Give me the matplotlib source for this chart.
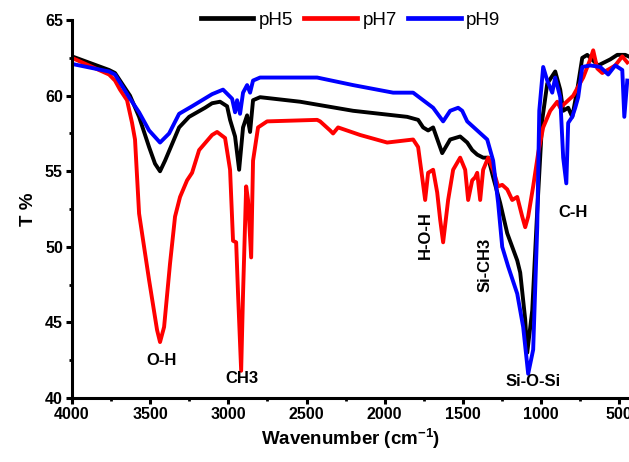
import matplotlib.pyplot as plt
from matplotlib.ticker import MultipleLocator

plt.rcParams['font.family'] = ['Liberation Sans', 'DejaVu Sans']
plt.rcParams['mathtext.fontset'] = 'custom'
plt.rcParams['mathtext.rm'] = 'Liberation Sans'
plt.rcParams['mathtext.bf'] = 'Liberation Sans:bold'

# FTIR spectra (wavenumber in cm-1, transmittance in %)
wn_ph5 = [4000, 3763, 3725, 3629, 3571, 3507, 3469, 3437, 3405, 3360, 3315, 3251,
          3149, 3104, 3053, 3008, 2989, 2957, 2931, 2906, 2880, 2861, 2842, 2797,
          2541, 2202, 1856, 1786, 1754, 1722, 1690, 1632, 1581, 1517, 1472, 1440,
          1408, 1370, 1338, 1306, 1261, 1216, 1152, 1133, 1101, 1088, 1056, 1024,
          992, 960, 909, 877, 858, 826, 800, 768, 736, 704, 634, 557, 512, 461, 440]
t_ph5 = [62.6, 61.7, 61.5, 60.0, 58.6, 56.6, 55.5, 55.0, 55.7, 56.8, 57.9, 58.6,
         59.2, 59.5, 59.6, 59.3, 58.4, 57.3, 55.1, 57.9, 58.7, 57.6, 59.7, 59.9,
         59.6, 59.0, 58.6, 58.4, 57.9, 57.7, 57.9, 56.2, 57.1, 57.3, 56.9, 56.4,
         56.1, 55.9, 55.9, 54.6, 52.9, 50.9, 49.1, 48.3, 45.2, 43.0, 45.8, 52.4,
         58.4, 60.8, 61.6, 60.4, 59.0, 59.2, 58.6, 60.4, 62.5, 62.7, 62.0, 62.4,
         62.7, 62.7, 62.6]

wn_ph7 = [4000, 3763, 3725, 3693, 3648, 3616, 3597, 3571, 3507, 3456, 3437, 3411,
          3373, 3341, 3309, 3264, 3232, 3187, 3104, 3072, 3021, 2989, 2970, 2950,
          2938, 2918, 2906, 2886, 2874, 2854, 2842, 2810, 2752, 2432, 2413, 2349,
          2330, 2298, 2157, 1984, 1818, 1786, 1760, 1741, 1722, 1690, 1664, 1645,
          1626, 1594, 1562, 1517, 1485, 1466, 1440, 1421, 1408, 1389, 1370, 1338,
          1306, 1274, 1248, 1216, 1184, 1152, 1120, 1101, 1082, 1050, 1018, 986,
          941, 896, 877, 794, 730, 685, 666, 640, 608, 557, 525, 480, 448]
t_ph7 = [62.5, 61.4, 61.0, 60.4, 59.7, 58.2, 57.1, 52.2, 47.8, 44.5, 43.7, 44.7,
         48.9, 52.0, 53.3, 54.4, 54.9, 56.4, 57.4, 57.6, 57.2, 55.1, 50.4, 50.3,
         46.9, 41.8, 46.9, 54.0, 53.1, 49.3, 55.7, 57.9, 58.3, 58.4, 58.3, 57.7,
         57.5, 57.9, 57.4, 56.9, 57.1, 56.6, 54.6, 53.1, 54.9, 55.1, 53.6, 51.8,
         50.3, 53.1, 55.1, 55.9, 55.1, 53.1, 54.4, 54.6, 54.9, 53.1, 55.1, 55.9,
         55.1, 54.0, 54.1, 53.8, 53.1, 53.3, 52.0, 51.3, 52.0, 54.0, 56.2, 57.9,
         59.0, 59.6, 59.2, 60.0, 61.2, 62.4, 63.0, 61.8, 61.5, 61.8, 62.0, 62.6, 62.2]

wn_ph9 = [4000, 3763, 3725, 3629, 3571, 3507, 3437, 3379, 3315, 3232, 3104, 3034,
          2976, 2957, 2944, 2925, 2906, 2880, 2861, 2842, 2797, 2432, 2202, 1946,
          1818, 1754, 1690, 1626, 1581, 1530, 1504, 1472, 1408, 1344, 1306, 1274,
          1248, 1210, 1152, 1114, 1082, 1050, 1024, 1011, 986, 960, 928, 909, 877,
          858, 838, 826, 800, 781, 762, 736, 685, 621, 570, 525, 480, 467, 448]
t_ph9 = [62.1, 61.6, 61.4, 59.8, 58.9, 57.7, 56.9, 57.5, 58.8, 59.3, 60.1, 60.4,
         59.8, 58.9, 59.7, 58.8, 60.2, 60.7, 60.2, 61.0, 61.2, 61.2, 60.7, 60.2,
         60.2, 59.7, 59.2, 58.3, 59.0, 59.2, 59.0, 58.3, 57.7, 57.1, 55.7, 52.9,
         50.0, 48.7, 46.9, 44.7, 41.6, 43.2, 51.3, 59.0, 61.9, 61.0, 60.2, 61.2,
         59.9, 55.9, 54.2, 58.2, 58.6, 59.2, 59.9, 61.9, 62.0, 61.9, 61.4, 62.0,
         61.7, 58.6, 61.0]

# band assignments
band_labels = ['O-H', 'CH3', 'H-O-H', 'Si-CH3', 'Si-O-Si', 'C-H']
band_wn = [3430, 2912, 1742, 1358, 1050, 795]
band_t = [42.5, 41.3, 50.8, 48.8, 41.1, 52.3]
band_rot = [0, 0, 90, 90, 0, 0]

fig = plt.figure(figsize=(6.29, 4.62), dpi=100)
ax = fig.add_axes([0.1145, 0.1385, 0.8855, 0.818])

ax.plot(wn_ph5, t_ph5, color='black', lw=2.8, label='pH5')
ax.plot(wn_ph7, t_ph7, color='#ff0000', lw=2.8, label='pH7')
ax.plot(wn_ph9, t_ph9, color='#0000ff', lw=2.8, label='pH9')

for lab, x, y, r in zip(band_labels, band_wn, band_t, band_rot):
    ax.text(x, y, lab, ha='center', va='center', rotation=r,
            fontsize=12, fontweight='bold')

ax.set_xlim(4000, 437)
ax.set_ylim(40, 65)
ax.xaxis.set_major_locator(MultipleLocator(500))
ax.xaxis.set_minor_locator(MultipleLocator(250))
ax.yaxis.set_major_locator(MultipleLocator(5))
ax.yaxis.set_minor_locator(MultipleLocator(2.5))

for s in ['top', 'right']:
    ax.spines[s].set_visible(False)
for s in ['left', 'bottom']:
    ax.spines[s].set_linewidth(2.2)

ax.tick_params(which='major', direction='out', length=4.5, width=2.2,
               labelsize=11.5, pad=2)
ax.tick_params(which='minor', direction='out', length=2.5, width=2)
for lbl in ax.get_xticklabels() + ax.get_yticklabels():
    lbl.set_fontweight('bold')

ax.set_xlabel(r'Wavenumber (cm$^{\mathbf{-1}}$)', fontsize=13.5,
              fontweight='bold', labelpad=3)
ax.set_ylabel('T %', fontsize=13.5, fontweight='bold', labelpad=6)

leg = ax.legend(loc='center', bbox_to_anchor=(0.5, 1.0), ncol=3, frameon=False,
                fontsize=13.5, handlelength=2.8, handletextpad=0.3,
                columnspacing=0.6, borderaxespad=0)
for h in leg.get_lines():
    h.set_linewidth(3.4)

fig.savefig('out.png', dpi=100)
